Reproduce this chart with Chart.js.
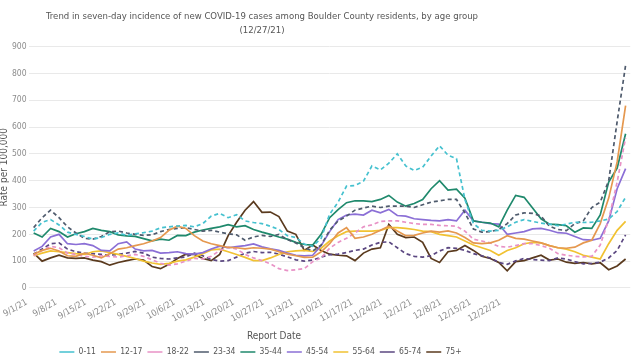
<!DOCTYPE html>
<html>
<head>
<meta charset="utf-8">
<style>
html,body{margin:0;padding:0;background:#ffffff;}
#wrap{width:640px;height:360px;}
</style>
<script src="https://cdn.jsdelivr.net/npm/chart.js@4.4.1/dist/chart.umd.min.js"></script>
</head>
<body>
<div id="wrap"><canvas id="c" width="640" height="360"></canvas></div>
<script>
// ---- text ----
const titleLines = ['Trend in seven-day incidence of new COVID-19 cases among Boulder County residents, by age group', '(12/27/21)'];
const xTitle = 'Report Date';
const yTitle = 'Rate per 100,000';
const tickLabels = ['9/1/21','9/8/21','9/15/21','9/22/21','9/29/21','10/6/21','10/13/21','10/20/21','10/27/21','11/3/21','11/10/21','11/17/21','11/24/21','12/1/21','12/8/21','12/15/21','12/22/21'];
const ageGroups = ['0-11','12-17','18-22','23-34','35-44','45-54','55-64','65-74','75+'];

// ---- days since 9/1/21 ----
const days = [0,2,4,6,8,10,12,14,16,18,20,22,24,26,28,30,32,34,36,38,40,42,44,46,48,50,52,54,56,58,60,62,64,66,68,70,72,74,76,78,80,82,84,86,88,90,92,94,96,98,100,102,104,106,108,110,112,114,116,118,120,122,124,126,128,130,132,134,136,138,140];

// ---- series values (rate per 100,000) ----
const age0_11 = [212,245,255,235,208,200,192,182,188,200, 205,196,202,206,212,224,228,231,233,228, 240,268,278,262,273,250,244,240,230,218, 195,188,164,155,185,275,320,380,382,398, 455,440,465,500,455,438,450,492,530,495, 482,330,240,215,212,215,228,245,255,248, 242,238,232,238,245,244,245,250,257,285, 338];
const age12_17 = [126,140,148,138,120,118,130,122,112,128, 145,150,158,165,175,188,215,230,222,195, 175,165,158,151,150,146,150,148,145,135, 126,120,114,115,135,165,205,225,185,190, 200,215,230,212,195,196,205,212,208,213, 205,188,168,165,168,178,195,185,182,175, 168,158,150,148,152,168,178,240,335,470, 680];
const age18_22 = [120,140,155,150,130,125,118,115,120,118, 115,120,125,118,105,92,85,90,100,110, 108,118,140,152,145,125,112,102,90,72, 65,68,72,98,112,148,170,185,205,228, 235,248,250,250,245,240,237,237,233,232, 230,212,182,175,168,155,152,158,165,165, 158,148,128,122,118,116,118,160,255,395, 560];
const age23_34 = [225,262,290,262,228,205,185,182,192,210, 212,205,200,196,198,210,218,222,225,218, 212,215,208,202,198,178,190,196,192,200, 180,168,150,138,160,215,250,268,290,298, 305,300,305,305,305,300,310,320,325,330, 330,280,220,208,210,218,240,272,280,278, 268,230,218,214,240,250,300,320,400,620, 830];
const age35_44 = [205,190,222,210,190,202,210,222,215,210, 198,194,192,184,176,182,178,196,195,208, 216,222,228,236,228,232,218,208,200,190, 182,170,162,160,200,262,292,318,325,325, 322,330,345,320,305,315,330,370,400,365, 368,335,250,245,242,228,290,345,338,298, 258,238,236,232,208,224,222,272,395,447, 575];
const age45_54 = [138,155,190,200,165,162,165,158,140,138, 165,172,145,138,140,130,132,135,128,126, 132,145,156,150,154,158,164,153,146,140, 130,122,120,122,158,210,255,272,275,272, 290,280,293,270,268,258,255,252,250,255, 250,290,250,245,240,238,200,205,210,220, 222,215,206,204,192,180,178,185,250,370, 445];
const age55_64 = [120,130,138,135,132,128,125,135,138,132, 125,118,110,100,93,88,92,100,105,115, 128,142,145,135,125,114,102,102,112,125, 135,138,140,136,148,175,195,210,212,212, 212,215,225,225,222,218,212,210,200,195, 190,175,160,150,140,122,140,150,165,170, 168,158,150,145,135,122,115,108,165,215, 248];
const age65_74 = [126,145,165,168,145,135,130,128,125,122, 125,130,136,130,115,110,108,112,116,130, 120,106,100,102,115,130,136,132,133,126, 116,105,100,104,115,124,126,132,140,145, 160,170,172,150,128,118,115,120,138,150, 148,140,128,120,112,95,88,101,110,106, 104,102,112,108,98,90,92,96,112,140, 198];
const age75plus = [130,100,112,122,112,110,112,104,98,85, 95,102,108,104,80,72,88,110,126,125, 110,102,125,195,245,290,322,282,283,266, 212,200,140,160,140,126,122,120,102,130, 145,150,237,200,188,190,170,110,95,135, 140,158,140,118,110,95,64,98,102,112, 122,104,108,96,92,95,90,94,68,82, 108];

const seriesValues = [age0_11, age12_17, age18_22, age23_34, age35_44, age45_54, age55_64, age65_74, age75plus];

// ---- styles ----
const lineColors = ['#45c1cf','#e5984f','#e892c6','#4f5b6d','#1f896c','#8b6fd6','#f1c232','#5b4781','#5a3a1e'];
const dashed = [true,false,true,true,false,false,false,true,false];

const datasets = ageGroups.map((name, k) => ({
  label: name,
  data: days.map((d, i) => ({x: d, y: seriesValues[k][i]})),
  borderColor: lineColors[k],
  backgroundColor: lineColors[k],
  borderWidth: 1.7,
  borderDash: dashed[k] ? [4, 3] : [],
  pointRadius: 0,
  pointHoverRadius: 0,
  tension: 0,
  fill: false
}));

const FONT = "'DejaVu Sans Condensed', 'Liberation Sans Narrow', 'Roboto', sans-serif";
Chart.defaults.font.family = FONT;

const TITLE_FS = 9.5, XT_FS = 10, LEG_FS = 8.5, LEG_PAD = 5;

// place the centred texts where the reference has them
const placeTexts = {
  id: 'placeTexts',
  afterLayout(chart) {
    const t = chart.titleBlock;
    if (t) t.right = 2 * 262 - t.left;
    chart.boxes.forEach(b => {
      if (b !== t && b.options && b.options.text === xTitle) {
        b.right = 2 * 274 - b.left;
        const h = b.bottom - b.top;
        b.top = 336 - XT_FS * 0.6;
        b.bottom = b.top + h;
      }
    });
    const lg = chart.legend;
    if (lg) {
      lg.right = 2 * 263 - lg.left - LEG_PAD;
      const h = lg.bottom - lg.top;
      lg.top = 352 - LEG_PAD - LEG_FS / 2;
      lg.bottom = lg.top + h;
    }
  }
};

new Chart(document.getElementById('c'), {
  type: 'line',
  data: { datasets },
  plugins: [placeTexts],
  options: {
    responsive: false,
    animation: false,
    events: [],
    layout: { padding: { top: 6, left: -2, right: 0, bottom: -9 } },
    scales: {
      x: {
        type: 'linear',
        min: -1.2,
        max: 141.1,
        grid: { display: false, drawTicks: false },
        border: { display: false },
        ticks: {
          stepSize: 7,
          autoSkip: false,
          includeBounds: false,
          minRotation: 30,
          maxRotation: 30,
          padding: 9,
          labelOffset: -7,
          color: '#8c8c8c',
          font: { size: 9 },
          callback: (v) => {
            const i = Math.round(v / 7);
            return (Math.abs(v - i * 7) < 1e-6 && i >= 0 && i < tickLabels.length) ? tickLabels[i] : '';
          }
        }
      },
      y: {
        min: 0,
        max: 900,
        grid: { color: '#e9e9e9', drawTicks: false },
        border: { display: false },
        ticks: { stepSize: 100, color: '#8c8c8c', font: { size: 8.5 }, padding: 2 },
        title: { display: true, text: yTitle, color: '#555555', font: { size: 10 }, padding: { top: 0, bottom: 0 } }
      }
    },
    plugins: {
      tooltip: { enabled: false },
      title: {
        display: true,
        text: titleLines,
        color: '#555555',
        font: { size: TITLE_FS, weight: 'normal', lineHeight: 1.45 },
        padding: { top: 4, bottom: 9 }
      },
      subtitle: {
        display: true,
        text: xTitle,
        position: 'bottom',
        weight: 500,
        color: '#555555',
        font: { size: XT_FS },
        padding: { top: 0, bottom: 0 }
      },
      legend: {
        position: 'bottom',
        labels: {
          usePointStyle: true,
          pointStyle: 'line',
          pointStyleWidth: 15,
          padding: LEG_PAD,
          color: '#555555',
          font: { size: LEG_FS }
        }
      }
    }
  }
});
</script>
</body>
</html>
